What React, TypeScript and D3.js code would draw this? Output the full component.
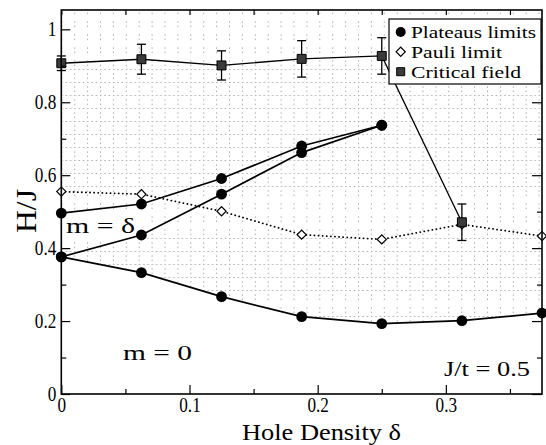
import React, { useEffect, useRef } from "react";
import * as d3 from "d3";

// hole density values (x) shared by all series
const holeDensity = [0, 0.0625, 0.125, 0.1875, 0.25, 0.3125, 0.375];

// plateau limits: three branches
const plateauLower = [0.376, 0.333, 0.267, 0.212, 0.193, 0.201, 0.222];
const plateauMiddle = [0.376, 0.436, 0.548, 0.662, 0.737];
const plateauUpper = [0.496, 0.521, 0.591, 0.68, 0.737];

const pauliLimit = [0.555, 0.548, 0.501, 0.437, 0.424, 0.465, 0.433];

const criticalField = [0.907, 0.918, 0.901, 0.919, 0.927, 0.471];
const criticalError = [0.02, 0.041, 0.04, 0.05, 0.05, 0.05];

const xMajor = [0, 0.1, 0.2, 0.3];
const xMinor = [0.05, 0.15, 0.25, 0.35];
const yMajor = [0, 0.2, 0.4, 0.6, 0.8, 1];
const yMinor = [0.1, 0.3, 0.5, 0.7, 0.9];

const legendLabels = ["Plateaus limits", "Pauli limit", "Critical field"];

const FONT = "Liberation Serif, Times New Roman, DejaVu Serif, serif";

const App: React.FC = () => {
  const svgRef = useRef<SVGSVGElement>(null);

  useEffect(() => {
    if (!svgRef.current) return;
    const width = 546;
    const height = 445;
    const margin = { top: 10, right: 4, bottom: 51, left: 61.3 };

    const svg = d3.select(svgRef.current);
    svg.selectAll("*").remove();
    svg.attr("width", width).attr("height", height);

    const x = d3
      .scaleLinear()
      .domain([0, 0.375])
      .range([margin.left, width - margin.right]);
    const y = d3
      .scaleLinear()
      .domain([0, 1.053])
      .range([height - margin.bottom, margin.top]);

    const [x0, x1] = x.range();
    const [yBottom, yTop] = y.range();

    svg.append("rect").attr("width", width).attr("height", height).attr("fill", "white");

    // dotted fill pattern
    const defs = svg.append("defs");
    const pat = defs
      .append("pattern")
      .attr("id", "dots")
      .attr("patternUnits", "userSpaceOnUse")
      .attr("x", x0)
      .attr("y", yBottom)
      .attr("width", 12.9)
      .attr("height", 13);
    [0, 4.3, 8.6].forEach(o => {
      pat.append("rect").attr("x", o).attr("y", 0).attr("width", 1.5).attr("height", 0.8).attr("fill", "#999");
    });
    [4.3, 8.6].forEach(o => {
      pat.append("rect").attr("x", 0).attr("y", o).attr("width", 0.8).attr("height", 1.5).attr("fill", "#999");
    });

    // region above the m = 0 boundary
    const area = d3
      .area<number>()
      .x((_, i) => x(holeDensity[i]))
      .y0(yTop)
      .y1(d => y(d));
    svg.append("path").datum(plateauLower).attr("d", area).attr("fill", "url(#dots)");

    // white box behind the m = δ label
    svg.append("rect").attr("x", x0 + 1).attr("y", 212).attr("width", 84).attr("height", 30).attr("fill", "white");

    const line = d3
      .line<number>()
      .x((_, i) => x(holeDensity[i]))
      .y(d => y(d));

    // Pauli limit (dotted)
    svg
      .append("path")
      .datum(pauliLimit)
      .attr("d", line)
      .attr("fill", "none")
      .attr("stroke", "black")
      .attr("stroke-width", 1.8)
      .attr("stroke-linecap", "round")
      .attr("stroke-dasharray", "0.1,4");

    // plateau lines
    [plateauLower, plateauMiddle, plateauUpper].forEach(s => {
      svg
        .append("path")
        .datum(s)
        .attr("d", line)
        .attr("fill", "none")
        .attr("stroke", "black")
        .attr("stroke-width", 1.7);
    });

    // critical field line
    svg
      .append("path")
      .datum(criticalField)
      .attr("d", line)
      .attr("fill", "none")
      .attr("stroke", "black")
      .attr("stroke-width", 1.3);

    // Pauli diamonds
    const diamond = d3.symbol(d3.symbolSquare, 42);
    svg
      .append("g")
      .selectAll("path")
      .data(pauliLimit)
      .enter()
      .append("path")
      .attr("d", diamond)
      .attr("transform", (d, i) => `translate(${x(holeDensity[i])},${y(d)}) rotate(45)`)
      .attr("fill", "white")
      .attr("stroke", "black")
      .attr("stroke-width", 1.2);

    // plateau circles
    const circles = [plateauLower, plateauMiddle, plateauUpper].flatMap(s =>
      s.map((v, i) => ({ x: holeDensity[i], y: v }))
    );
    svg
      .append("g")
      .selectAll("circle")
      .data(circles)
      .enter()
      .append("circle")
      .attr("cx", d => x(d.x))
      .attr("cy", d => y(d.y))
      .attr("r", 5.4)
      .attr("fill", "black");

    // error bars
    const eb = svg.append("g").attr("stroke", "black").attr("stroke-width", 1.3);
    criticalField.forEach((v, i) => {
      const cx = x(holeDensity[i]);
      const lo = y(v - criticalError[i]);
      const hi = y(v + criticalError[i]);
      eb.append("line").attr("x1", cx).attr("x2", cx).attr("y1", lo).attr("y2", hi);
      eb.append("line").attr("x1", cx - 4.5).attr("x2", cx + 4.5).attr("y1", lo).attr("y2", lo);
      eb.append("line").attr("x1", cx - 4.5).attr("x2", cx + 4.5).attr("y1", hi).attr("y2", hi);
    });

    // critical field squares
    const square = d3.symbol(d3.symbolSquare, 80);
    svg
      .append("g")
      .selectAll("path")
      .data(criticalField)
      .enter()
      .append("path")
      .attr("d", square)
      .attr("transform", (d, i) => `translate(${x(holeDensity[i])},${y(d)})`)
      .attr("fill", "#3a3a3a")
      .attr("stroke", "black")
      .attr("stroke-width", 1);

    // frame
    svg
      .append("rect")
      .attr("x", x0)
      .attr("y", yTop)
      .attr("width", x1 - x0)
      .attr("height", yBottom - yTop)
      .attr("fill", "none")
      .attr("stroke", "black")
      .attr("stroke-width", 1.6);

    const styleAxis = (g: d3.Selection<SVGGElement, unknown, null, undefined>) => {
      g.select(".domain").remove();
      g.attr("font-family", FONT).attr("font-size", 20);
      g.selectAll("line").attr("stroke-width", 1.2);
      // narrow the tick labels a little (serif face here is wider than the original)
      g.selectAll<SVGTextElement, unknown>("text").each(function () {
        const len = this.getComputedTextLength();
        if (len > 0) {
          this.setAttribute("textLength", String(len * 0.86));
          this.setAttribute("lengthAdjust", "spacingAndGlyphs");
        }
      });
    };

    const fmt = d3.format("~g");

    // bottom axis
    svg
      .append("g")
      .attr("transform", `translate(0,${yBottom})`)
      .call(d3.axisBottom(x).tickValues(xMajor).tickSizeInner(-9).tickSizeOuter(0).tickPadding(4).tickFormat(d => fmt(d as number)))
      .call(styleAxis);
    svg
      .append("g")
      .attr("transform", `translate(0,${yBottom})`)
      .call(d3.axisBottom(x).tickValues(xMinor).tickSizeInner(-5).tickSizeOuter(0).tickFormat(() => ""))
      .call(styleAxis);

    // left axis
    svg
      .append("g")
      .attr("transform", `translate(${x0},0)`)
      .call(d3.axisLeft(y).tickValues(yMajor).tickSizeInner(-9).tickSizeOuter(0).tickPadding(5).tickFormat(d => fmt(d as number)))
      .call(styleAxis);
    svg
      .append("g")
      .attr("transform", `translate(${x0},0)`)
      .call(d3.axisLeft(y).tickValues(yMinor).tickSizeInner(-5).tickSizeOuter(0).tickFormat(() => ""))
      .call(styleAxis);

    // top mirror ticks
    svg
      .append("g")
      .attr("transform", `translate(0,${yTop})`)
      .call(d3.axisTop(x).tickValues([...xMajor, ...xMinor]).tickSizeInner(-5).tickSizeOuter(0).tickFormat(() => ""))
      .call(styleAxis);

    // right mirror ticks
    svg
      .append("g")
      .attr("transform", `translate(${x1},0)`)
      .call(d3.axisRight(y).tickValues(yMajor).tickSizeInner(-10).tickSizeOuter(0).tickFormat(() => ""))
      .call(styleAxis);
    svg
      .append("g")
      .attr("transform", `translate(${x1},0)`)
      .call(d3.axisRight(y).tickValues(yMinor).tickSizeInner(-5).tickSizeOuter(0).tickFormat(() => ""))
      .call(styleAxis);

    const label = (
      tx: number,
      ty: number,
      text: string,
      size: number,
      len: number,
      anchor = "start"
    ) =>
      svg
        .append("text")
        .attr("x", tx)
        .attr("y", ty)
        .attr("font-family", FONT)
        .attr("font-size", size)
        .attr("text-anchor", anchor)
        .attr("textLength", len)
        .attr("lengthAdjust", "spacingAndGlyphs")
        .text(text);

    // axis titles
    label(321.5, 439.5, "Hole Density δ", 23.5, 159, "middle");
    svg
      .append("text")
      .attr("transform", "translate(36,211) rotate(-90)")
      .attr("font-family", FONT)
      .attr("font-size", 30)
      .attr("text-anchor", "middle")
      .attr("textLength", 44)
      .attr("lengthAdjust", "spacingAndGlyphs")
      .text("H/J");

    // annotations
    label(66, 233, "m = δ", 22, 69);
    label(123, 360, "m = 0", 21, 69);
    label(444, 376, "J/t = 0.5", 22, 86);

    // legend
    const lg = svg.append("g");
    lg.append("rect")
      .attr("x", 389)
      .attr("y", 19)
      .attr("width", 152)
      .attr("height", 65)
      .attr("fill", "white")
      .attr("stroke", "black")
      .attr("stroke-width", 1.2);
    const rowY = [32, 51.7, 71.7];
    const textLen = [125, 91, 110];
    lg.append("circle").attr("cx", 400.7).attr("cy", rowY[0]).attr("r", 5).attr("fill", "black");
    lg.append("path")
      .attr("d", diamond)
      .attr("transform", `translate(400.7,${rowY[1]}) rotate(45)`)
      .attr("fill", "white")
      .attr("stroke", "black")
      .attr("stroke-width", 1.2);
    lg.append("path")
      .attr("d", d3.symbol(d3.symbolSquare, 64))
      .attr("transform", `translate(400.7,${rowY[2]})`)
      .attr("fill", "#3a3a3a")
      .attr("stroke", "black")
      .attr("stroke-width", 1);
    legendLabels.forEach((t, i) => {
      lg.append("text")
        .attr("x", 411)
        .attr("y", rowY[i] + 6)
        .attr("font-family", FONT)
        .attr("font-size", 16)
        .attr("textLength", textLen[i])
        .attr("lengthAdjust", "spacingAndGlyphs")
        .text(t);
    });
  }, []);

  return (
    <svg
      ref={svgRef}
      style={{ position: "absolute", left: 0, top: 0, display: "block" }}
    ></svg>
  );
};

export default App;
